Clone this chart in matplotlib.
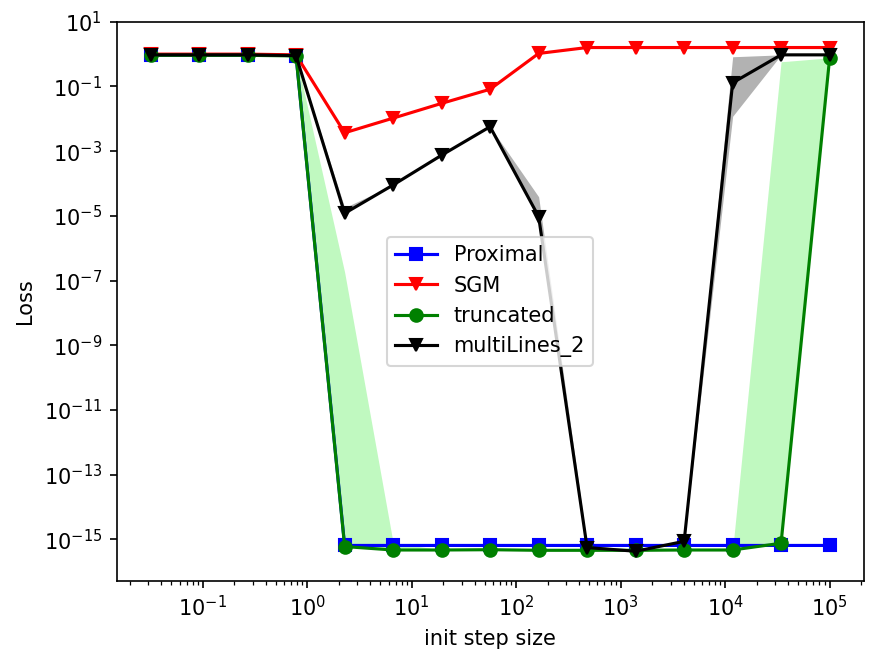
import matplotlib
matplotlib.use("Agg")
import matplotlib.pyplot as plt
from matplotlib.ticker import LogLocator, NullLocator

# init step sizes
step_sizes = [0.0316, 0.0921, 0.268, 0.781, 2.28, 6.63, 19.3, 56.2, 164,
              477, 1390, 4050, 11800, 34300, 100000]

proximal = [0.95, 0.95, 0.95, 0.9, 6.5e-16, 6.5e-16, 6.5e-16, 6.5e-16,
            6.5e-16, 6.5e-16, 6.5e-16, 6.5e-16, 6.5e-16, 6.5e-16, 6.5e-16]

sgm = [1.0, 1.0, 1.0, 0.95, 3.7e-3, 1.05e-2, 3.0e-2, 8.2e-2, 1.05,
       1.6, 1.6, 1.6, 1.6, 1.6, 1.6]

truncated = [0.92, 0.92, 0.92, 0.88, 6.0e-16, 4.7e-16, 4.7e-16, 4.8e-16,
             4.6e-16, 4.6e-16, 4.6e-16, 4.7e-16, 4.7e-16, 7.6e-16, 0.75]
truncated_lo = truncated
truncated_hi = [0.92, 0.92, 0.92, 0.88, 1.8e-7, 8e-16, 4.7e-16, 4.8e-16,
                4.6e-16, 4.6e-16, 4.6e-16, 4.7e-16, 4.7e-16, 0.58, 0.77]

multi = [0.95, 0.95, 0.95, 0.9, 1.2e-5, 9e-5, 7.5e-4, 5.7e-3, 9.5e-6,
         5.6e-16, 4.3e-16, 8.7e-16, 0.13, 0.95, 0.95]
multi_lo = [0.95, 0.95, 0.95, 0.9, 1.2e-5, 9e-5, 7.5e-4, 5.7e-3, 9.5e-6,
            5.6e-16, 4.3e-16, 8.7e-16, 0.012, 0.95, 0.95]
multi_hi = [0.95, 0.95, 0.95, 0.9, 1.8e-5, 9e-5, 7.5e-4, 5.7e-3, 3.9e-5,
            7e-16, 4.3e-16, 8.7e-16, 0.83, 0.95, 0.95]

fig = plt.figure(figsize=(883 / 150, 660 / 150), dpi=150)
ax = fig.add_axes([0.132, 0.12, 0.846, 0.847])

ax.fill_between(step_sizes, truncated_lo, truncated_hi, color='#c0f9c0', linewidth=0)
ax.fill_between(step_sizes, multi_lo, multi_hi, color='k', alpha=0.3, linewidth=0)

ax.plot(step_sizes, proximal, 'b-s', label='Proximal')
ax.plot(step_sizes, sgm, 'r-v', label='SGM')
ax.plot(step_sizes, truncated, 'g-o', label='truncated')
ax.plot(step_sizes, multi, 'k-v', label='multiLines_2')

ax.set_xscale('log')
ax.set_yscale('log')
ax.set_ylim(10 ** -16.28, 10 ** 1.0)
ax.set_yticks([10.0 ** e for e in range(1, -16, -2)])
ax.yaxis.set_minor_locator(NullLocator())
ax.xaxis.set_minor_locator(LogLocator(subs=range(2, 10), numticks=20))

ax.set_xlabel('init step size')
ax.set_ylabel('Loss')
ax.legend(loc='center')

fig.savefig('out.png', dpi=150)
